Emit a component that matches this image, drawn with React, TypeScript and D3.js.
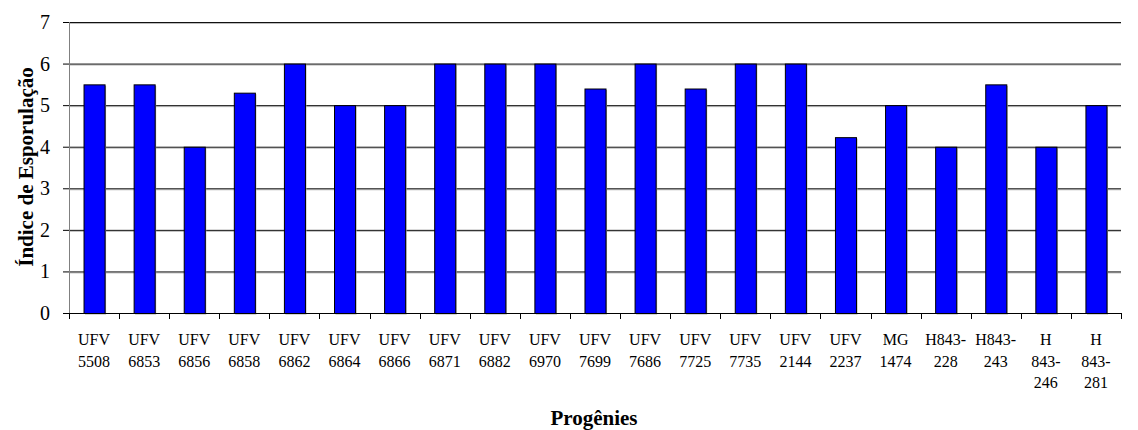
import React from "react";
import * as d3 from "d3";

const categories: string[][] = [
  ["UFV", "5508"], ["UFV", "6853"], ["UFV", "6856"], ["UFV", "6858"], ["UFV", "6862"],
  ["UFV", "6864"], ["UFV", "6866"], ["UFV", "6871"], ["UFV", "6882"], ["UFV", "6970"],
  ["UFV", "7699"], ["UFV", "7686"], ["UFV", "7725"], ["UFV", "7735"], ["UFV", "2144"],
  ["UFV", "2237"], ["MG", "1474"], ["H843-", "228"], ["H843-", "243"], ["H", "843-", "246"],
  ["H", "843-", "281"],
];
const values: number[] = [5.5, 5.5, 4, 5.3, 6, 5, 5, 6, 6, 6, 5.4, 6, 5.4, 6, 6, 4.23, 5, 4, 5.5, 4, 5];
const yTicks: number[] = [0, 1, 2, 3, 4, 5, 6, 7];

const W = 1138, H = 430;
const left = 69, right = 1121, top = 22, bottom = 313;
const FONT = "'Liberation Serif', 'Times New Roman', serif";

export default function App() {
  const keys = categories.map((c, i) => String(i));
  const x = d3.scaleBand<string>().domain(keys).range([left, right]).paddingInner(0.58).paddingOuter(0.29);
  const xb = d3.scaleBand<string>().domain(keys).range([left, right]);
  const y = d3.scaleLinear().domain([0, 7]).range([bottom, top]);
  return (
    <svg width={W} height={H} style={{ position: "absolute", left: 0, top: 0, background: "#fff" }}>
      {yTicks.filter(t => t > 0).map(t => (
        <g key={t}>
          <line x1={left} x2={right} y1={y(t) + 1.5} y2={y(t) + 1.5} stroke="#bbb" strokeWidth={1} />
          <line x1={left} x2={right} y1={y(t) + 0.5} y2={y(t) + 0.5} stroke="#111" strokeWidth={1} />
        </g>
      ))}
      {values.map((v, i) => (
        <g key={i}>
          <rect x={x(String(i))! + 1.5} y={y(v) + 1.5} width={x.bandwidth()} height={bottom - y(v)} fill="#aaa" />
          <rect x={x(String(i))! + 0.5} y={y(v) + 0.5} width={x.bandwidth()} height={bottom - y(v)} fill="#0000FF" stroke="#000" strokeWidth={1} />
        </g>
      ))}
      <line x1={left + 0.5} x2={left + 0.5} y1={top} y2={bottom} stroke="#808080" strokeWidth={1} />
      <line x1={left - 6} x2={right} y1={bottom + 0.5} y2={bottom + 0.5} stroke="#000" strokeWidth={1} />
      {yTicks.map(t => (
        <g key={"yt" + t}>
          <line x1={left - 6} x2={left} y1={y(t) + 0.5} y2={y(t) + 0.5} stroke="#000" />
          <text x={50} y={y(t)} dy="0.35em" textAnchor="end" fontFamily={FONT} fontSize={20}>{t}</text>
        </g>
      ))}
      {keys.concat([String(keys.length)]).map((k, i) => {
        const xx = i < keys.length ? xb(k)! : right;
        return <line key={"xt" + i} x1={Math.round(xx) + 0.5} x2={Math.round(xx) + 0.5} y1={bottom} y2={bottom + 6} stroke="#000" />;
      })}
      {categories.map((c, i) => {
        const cx = xb(String(i))! + xb.bandwidth() / 2;
        return (
          <text key={"xl" + i} x={cx} textAnchor="middle" fontFamily={FONT} fontSize={16}>
            {c.map((s, j) => (
              <tspan key={j} x={cx} y={345 + j * 21.5}>{s}</tspan>
            ))}
          </text>
        );
      })}
      <text transform={`translate(33,167) rotate(-90)`} textAnchor="middle" fontFamily={FONT} fontSize={21} fontWeight="bold">Índice de Esporulação</text>
      <text x={594} y={425} textAnchor="middle" fontFamily={FONT} fontSize={21} fontWeight="bold">Progênies</text>
    </svg>
  );
}
